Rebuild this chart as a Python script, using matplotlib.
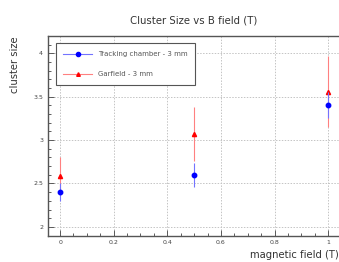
import numpy as np
import matplotlib.pyplot as plt
from matplotlib.ticker import MultipleLocator
from matplotlib.lines import Line2D

# data
field = [0.0, 0.5, 1.0]
track_size = [2.40, 2.60, 3.40]
track_err = [0.10, 0.14, 0.15]
garf_size = [2.59, 3.075, 3.56]
garf_err = [0.22, 0.31, 0.41]

fig = plt.figure(figsize=(3.39, 2.62), dpi=100)
ax = fig.add_axes([0.1416, 0.101, 0.862, 0.7615])

ax.errorbar(field, track_size, yerr=track_err, fmt='o', color='blue', ms=3.2,
            elinewidth=0.8, ecolor=(0.45, 0.45, 1.0), zorder=3)
ax.errorbar(field, garf_size, yerr=garf_err, fmt='^', color='red', ms=3,
            elinewidth=0.8, ecolor=(1.0, 0.5, 0.5), zorder=2)

ax.set_xlim(-0.045, 1.045)
ax.set_ylim(1.9, 4.2)
ax.xaxis.set_minor_locator(MultipleLocator(0.05))
ax.yaxis.set_minor_locator(MultipleLocator(0.1))
ax.set_xticks([0, 0.2, 0.4, 0.6, 0.8, 1.0])
ax.set_xticklabels(['0', '0.2', '0.4', '0.6', '0.8', '1'])
ax.set_yticks([2, 2.5, 3, 3.5, 4])
ax.set_yticklabels(['2', '2.5', '3', '3.5', '4'])
ax.tick_params(which='both', direction='in', labelsize=4.5, colors='#444444', width=0.6)
ax.tick_params(which='major', length=4)
ax.tick_params(which='minor', length=2)
ax.grid(True, which='major', color='#c4c4c4', linestyle=(0, (1.5, 1.5)), linewidth=0.7)
for s in ax.spines.values():
    s.set_linewidth(1.0)
    s.set_color('#555555')

ax.set_title('Cluster Size vs B field (T)', fontsize=7.3, color='#333333', pad=9)
ax.set_ylabel('cluster size', fontsize=7.2, color='#333333', loc='top')
ax.set_xlabel('magnetic field (T)', fontsize=7.2, color='#333333', loc='right')
ax.yaxis.set_label_coords(-0.095, 1.0)
ax.xaxis.set_label_coords(0.995, -0.07)

handles = [Line2D([], [], color=(0.45, 0.45, 1.0), lw=0.8, marker='o', ms=3,
                  mfc='blue', mec='blue'),
           Line2D([], [], color=(1.0, 0.5, 0.5), lw=0.8, marker='^', ms=2.6,
                  mfc='red', mec='red')]
leg = ax.legend(handles, ['Tracking chamber - 3 mm', 'Garfield - 3 mm'],
                loc='upper left', fontsize=5, frameon=True, fancybox=False,
                edgecolor='#555555', borderpad=1.1, labelspacing=2.0,
                handlelength=4.2, handletextpad=0.8, labelcolor='#555555',
                bbox_to_anchor=(0.014, 0.98), framealpha=1)
leg.get_frame().set_linewidth(0.8)

fig.savefig('out.png', dpi=100)
